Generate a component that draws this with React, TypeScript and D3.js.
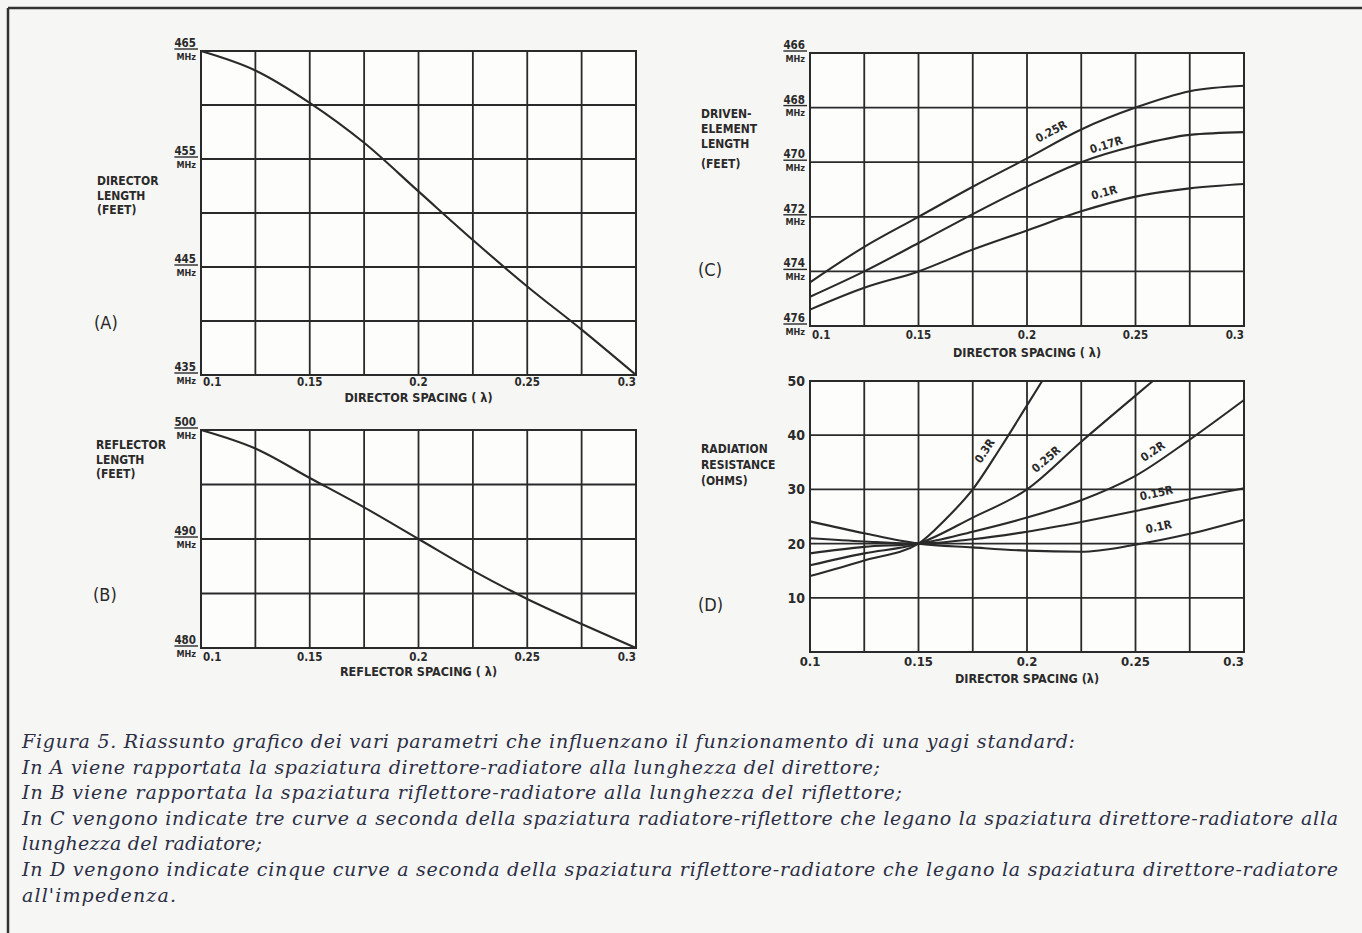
import React, { useEffect, useRef } from "react";
import * as d3 from "d3";

const W = 1362;
const H = 933;

// director / reflector spacing (wavelengths), one grid column each
const spacing = [0.1, 0.125, 0.15, 0.175, 0.2, 0.225, 0.25, 0.275, 0.3];
const xTickValues = [0.1, 0.15, 0.2, 0.25, 0.3];
const xTickLabels = ["0.1", "0.15", "0.2", "0.25", "0.3"];

// (A) director length, MHz
const directorLength = [465, 463.2, 460.2, 456.5, 452, 447.5, 443.2, 439.2, 435];
const aTicks = [465, 455, 445, 435];

// (B) reflector length, MHz
const reflectorLength = [500, 498.3, 495.6, 492.9, 490, 487.1, 484.5, 482.2, 480];
const bTicks = [500, 490, 480];

// (C) driven element length, MHz, per reflector spacing
const driven025R = [474.4, 473.1, 472.0, 470.9, 469.86, 468.8, 468.0, 467.4, 467.2];
const driven017R = [474.93, 474.0, 472.96, 471.9, 470.9, 470.0, 469.4, 469.0, 468.9];
const driven01R = [475.4, 474.6, 474.0, 473.2, 472.5, 471.8, 471.26, 470.96, 470.8];
const cTicks = [466, 468, 470, 472, 474, 476];

// (D) radiation resistance, ohms, per reflector spacing
const res01R = [24.1, 21.9, 20, 19.3, 18.7, 18.5, 19.8, 21.8, 24.4];
const res015R = [21, 20.4, 20, 20.8, 22.2, 24, 26, 28.2, 30.2];
const res02R = [18.2, 19.4, 20, 22.2, 24.8, 28, 32.5, 39.2, 46.5];
const res025X = [0.1, 0.125, 0.15, 0.175, 0.2, 0.225, 0.25, 0.258];
const res025R = [16, 18.2, 20, 24.8, 30, 38.8, 47.3, 50];
const res03X = [0.1, 0.125, 0.15, 0.1625, 0.175, 0.1875, 0.2, 0.207];
const res03R = [14, 16.9, 20, 24.5, 30, 37.5, 45.5, 50];
const dTicks = [50, 40, 30, 20, 10];

const caption = [
  "Figura 5. Riassunto grafico dei vari parametri che influenzano il funzionamento di una yagi standard:",
  "In A viene rapportata la spaziatura direttore-radiatore alla lunghezza del direttore;",
  "In B viene rapportata la spaziatura riflettore-radiatore alla lunghezza del riflettore;",
  "In C vengono indicate tre curve a seconda della spaziatura radiatore-riflettore che legano la spaziatura direttore-radiatore alla",
  "lunghezza del radiatore;",
  "In D vengono indicate cinque curve a seconda della spaziatura riflettore-radiatore che legano la spaziatura direttore-radiatore",
  "all'impedenza.",
];
// right end of each caption line in the printed page
const captionEnds = [1075, 880, 902, 1338, 262, 1338, 176];

const INK = "#2a2a2a";
const LABEL_FONT = "'DejaVu Sans Condensed', 'Liberation Sans Narrow', 'DejaVu Sans', sans-serif";

function drawPanel(svg, p) {
  const x = d3.scaleLinear().domain([0.1, 0.3]).range([p.left, p.right]);
  const y = d3.scaleLinear().domain(p.yDomain).range([p.top, p.bottom]);
  const g = svg.append("g");

  g.append("rect")
    .attr("x", p.left).attr("y", p.top)
    .attr("width", p.right - p.left).attr("height", p.bottom - p.top)
    .attr("fill", "#fdfdfc");

  g.append("g").selectAll("line").data(spacing).join("line")
    .attr("x1", d => x(d)).attr("x2", d => x(d))
    .attr("y1", p.top).attr("y2", p.bottom)
    .attr("stroke", INK).attr("stroke-width", 1.8);

  g.append("g").selectAll("line").data(p.yGrid).join("line")
    .attr("x1", p.left).attr("x2", p.right)
    .attr("y1", d => y(d)).attr("y2", d => y(d))
    .attr("stroke", INK).attr("stroke-width", 1.8);

  g.append("rect")
    .attr("x", p.left).attr("y", p.top)
    .attr("width", p.right - p.left).attr("height", p.bottom - p.top)
    .attr("fill", "none").attr("stroke", INK).attr("stroke-width", 2);

  const line = d3.line().x(d => x(d[0])).y(d => y(d[1])).curve(d3.curveMonotoneX);
  p.series.forEach(s => {
    g.append("path")
      .attr("d", line(d3.zip(s.xs, s.ys)))
      .attr("fill", "none").attr("stroke", INK).attr("stroke-width", 2.1);
  });

  // curve labels, rotated along the curve
  (p.curveLabels || []).forEach(l => {
    const s = p.series[l.series];
    const f = d3.scaleLinear().domain(s.xs).range(s.ys);
    const ang = Math.atan2(y(f(l.x + 0.004)) - y(f(l.x - 0.004)), x(l.x + 0.004) - x(l.x - 0.004)) * 180 / Math.PI;
    g.append("text")
      .attr("transform", `translate(${x(l.x)},${y(l.v)}) rotate(${ang})`)
      .attr("text-anchor", "middle")
      .attr("font-family", LABEL_FONT).attr("font-weight", "bold")
      .attr("font-size", 11.5).attr("fill", INK)
      .text(l.text);
  });

  // y tick labels
  p.yTicks.forEach(t => {
    if (p.mhz) {
      const num = g.append("text")
        .attr("x", p.left - 5).attr("y", y(t) - 4)
        .attr("text-anchor", "end")
        .attr("font-family", LABEL_FONT).attr("font-weight", "bold")
        .attr("font-size", 11.5).attr("fill", INK)
        .text(t);
      const w = (num.node() as SVGTextElement).getComputedTextLength();
      g.append("line")
        .attr("x1", p.left - 5 - w).attr("x2", p.left - 3)
        .attr("y1", y(t) - 2).attr("y2", y(t) - 2)
        .attr("stroke", INK).attr("stroke-width", 1.4);
      g.append("text")
        .attr("x", p.left - 5).attr("y", y(t) + 8.5)
        .attr("text-anchor", "end")
        .attr("font-family", LABEL_FONT).attr("font-weight", "bold")
        .attr("font-size", 9).attr("fill", INK)
        .text("MHz");
    } else {
      g.append("text")
        .attr("x", p.left - 5).attr("y", y(t) + 5)
        .attr("text-anchor", "end")
        .attr("font-family", LABEL_FONT).attr("font-weight", "bold")
        .attr("font-size", 14).attr("fill", INK)
        .text(t);
    }
  });

  // x tick labels
  xTickValues.forEach((v, i) => {
    const first = i === 0;
    const last = i === xTickValues.length - 1;
    g.append("text")
      .attr("x", first && p.mhz ? x(v) + 2 : x(v))
      .attr("y", p.bottom + p.xLabelDy)
      .attr("text-anchor", first && p.mhz ? "start" : last ? "end" : "middle")
      .attr("font-family", LABEL_FONT).attr("font-weight", "bold")
      .attr("font-size", p.mhz ? 11.5 : 13).attr("fill", INK)
      .text(xTickLabels[i]);
  });

  g.append("text")
    .attr("x", (p.left + p.right) / 2).attr("y", p.bottom + p.xTitleDy)
    .attr("text-anchor", "middle")
    .attr("font-family", LABEL_FONT).attr("font-weight", "bold")
    .attr("font-size", 12.5).attr("fill", INK)
    .text(p.xTitle);

  p.yTitle.forEach((t, i) => {
    g.append("text")
      .attr("x", p.titleX).attr("y", p.yTitleY + i * p.yTitleStep[i])
      .attr("font-family", LABEL_FONT).attr("font-weight", "bold")
      .attr("font-size", 12).attr("fill", INK)
      .text(t);
  });

  g.append("text")
    .attr("x", p.titleX - 3).attr("y", p.letterY)
    .attr("font-family", LABEL_FONT)
    .attr("font-size", 18).attr("fill", INK)
    .text(p.letter);
}

export default function App() {
  const ref = useRef(null);

  useEffect(() => {
    const svg = d3.select(ref.current);
    svg.selectAll("*").remove();

    svg.append("rect").attr("width", W).attr("height", H).attr("fill", "#f6f6f4");
    // frame
    svg.append("line").attr("x1", 8).attr("x2", W).attr("y1", 8).attr("y2", 8)
      .attr("stroke", "#333").attr("stroke-width", 2.5);
    svg.append("line").attr("x1", 8).attr("x2", 8).attr("y1", 8).attr("y2", H)
      .attr("stroke", "#333").attr("stroke-width", 2.5);

    drawPanel(svg, {
      left: 201, right: 636, top: 51, bottom: 375,
      yDomain: [465, 435], yGrid: d3.range(435, 466, 5), yTicks: aTicks, mhz: true,
      series: [{ xs: spacing, ys: directorLength }],
      xLabelDy: 11, xTitleDy: 27, xTitle: "DIRECTOR SPACING ( \u03bb)",
      yTitle: ["DIRECTOR", "LENGTH", "(FEET)"], titleX: 97, yTitleY: 185, yTitleStep: [15, 15, 14.5],
      letter: "(A)", letterY: 329,
    });

    drawPanel(svg, {
      left: 201, right: 636, top: 430, bottom: 648,
      yDomain: [500, 480], yGrid: d3.range(480, 501, 5), yTicks: bTicks, mhz: true,
      series: [{ xs: spacing, ys: reflectorLength }],
      xLabelDy: 13, xTitleDy: 28, xTitle: "REFLECTOR SPACING ( \u03bb)",
      yTitle: ["REFLECTOR", "LENGTH", "(FEET)"], titleX: 96, yTitleY: 449, yTitleStep: [15, 15, 14.5],
      letter: "(B)", letterY: 601,
    });

    drawPanel(svg, {
      left: 810, right: 1244, top: 53, bottom: 326,
      yDomain: [466, 476], yGrid: d3.range(466, 477, 2), yTicks: cTicks, mhz: true,
      series: [
        { xs: spacing, ys: driven025R },
        { xs: spacing, ys: driven017R },
        { xs: spacing, ys: driven01R },
      ],
      curveLabels: [
        { text: "0.25R", series: 0, x: 0.212, v: 469.0 },
        { text: "0.17R", series: 1, x: 0.237, v: 469.5 },
        { text: "0.1R", series: 2, x: 0.236, v: 471.25 },
      ],
      xLabelDy: 13, xTitleDy: 31, xTitle: "DIRECTOR SPACING ( \u03bb)",
      yTitle: ["DRIVEN-", "ELEMENT", "LENGTH", "(FEET)"], titleX: 701, yTitleY: 118, yTitleStep: [15, 15, 15, 16.5],
      letter: "(C)", letterY: 276,
    });

    drawPanel(svg, {
      left: 810, right: 1244, top: 381, bottom: 652,
      yDomain: [50, 0], yGrid: d3.range(0, 51, 10), yTicks: dTicks, mhz: false,
      series: [
        { xs: spacing, ys: res01R },
        { xs: spacing, ys: res015R },
        { xs: spacing, ys: res02R },
        { xs: res025X, ys: res025R },
        { xs: res03X, ys: res03R },
      ],
      curveLabels: [
        { text: "0.3R", series: 4, x: 0.182, v: 36.7 },
        { text: "0.25R", series: 3, x: 0.21, v: 35 },
        { text: "0.2R", series: 2, x: 0.259, v: 36.4 },
        { text: "0.15R", series: 1, x: 0.26, v: 28.6 },
        { text: "0.1R", series: 0, x: 0.261, v: 22.4 },
      ],
      xLabelDy: 14, xTitleDy: 31, xTitle: "DIRECTOR SPACING (\u03bb)",
      yTitle: ["RADIATION", "RESISTANCE", "(OHMS)"], titleX: 701, yTitleY: 453, yTitleStep: [16, 16, 16],
      letter: "(D)", letterY: 611,
    });

    // caption, fitted to the printed line lengths
    caption.forEach((t, i) => {
      svg.append("text")
        .attr("x", 22).attr("y", 748 + i * 25.6)
        .attr("font-family", "'DejaVu Serif', serif").attr("font-style", "italic")
        .attr("font-size", 19).attr("fill", "#2b2e45")
        .attr("textLength", captionEnds[i] - 22).attr("lengthAdjust", "spacing")
        .text(t);
    });
  }, []);

  return (
    <svg ref={ref} width={W} height={H}
      style={{ position: "absolute", left: 0, top: 0, display: "block" }} />
  );
}
